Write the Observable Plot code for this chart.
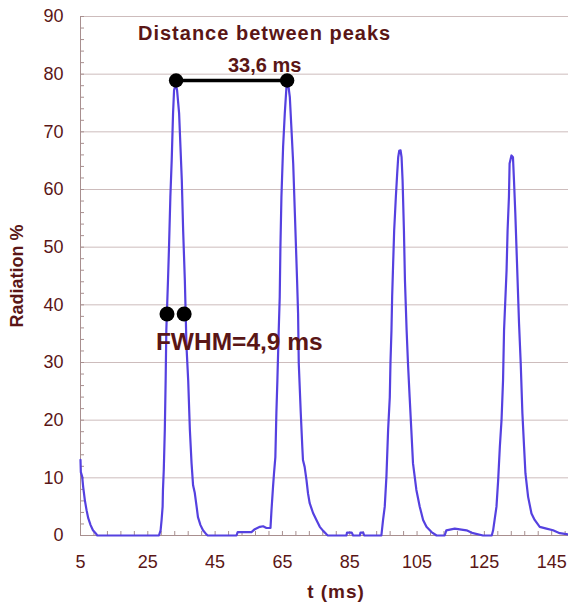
<!DOCTYPE html>
<html>
<head>
<meta charset="utf-8">
<script src="https://cdn.jsdelivr.net/npm/d3@7"></script>
<script src="https://cdn.jsdelivr.net/npm/@observablehq/plot@0.6"></script>
<style>
  html, body { margin: 0; padding: 0; background: #fff; }
  #wrap { position: relative; width: 568px; height: 604px; }
  #chart svg { display: block; }
  #xtitle { position: absolute; left: 236px; width: 200px; top: 580px; text-align: center;
            font: bold 19px 'Liberation Sans', Arial, Helvetica, sans-serif; color: #5a1616;
            letter-spacing: 1px; line-height: 24px; }
</style>
</head>
<body>
<div id="wrap">
  <div id="chart"></div>
  <div id="xtitle">t (ms)</div>
</div>
<script>
// Radiation (%) versus time t (ms)
const tMs = [
  5.0, 5.1, 5.5, 5.8, 6.3, 6.8, 7.3, 8.0, 8.7, 9.75, 10.0,
  28.3, 28.8, 29.1, 29.4, 29.5, 29.75, 30.05, 30.3, 30.5, 31.0, 31.3, 31.7, 32.1, 32.5, 32.8, 33.3,
  33.7, 34.3, 34.7, 35.1, 35.5, 36.0, 36.5, 37.0, 37.5, 38.0, 38.45, 38.95, 39.5, 39.9, 40.65, 41.4, 42.4, 42.8,
  51.35, 51.7, 55.8, 56.8, 58.3, 59.25, 60.25, 61.45,
  61.75, 62.2, 62.5, 62.9, 63.2, 63.5, 63.9, 64.2, 64.4, 64.7, 65.2, 65.7, 66.2, 66.7,
  67.2, 67.7, 68.2, 68.7, 69.35, 69.65, 69.85, 70.45, 70.9, 71.1, 71.6, 72.15, 72.6, 73.1, 74.1, 75.1, 76.1, 77.1, 78.1, 78.5,
  84.0, 84.2, 85.6, 86.0, 88.0, 88.2, 89.0, 89.3, 94.4,
  94.9, 95.4, 95.9, 96.4, 96.9, 97.1, 97.4, 97.6, 97.9, 98.2, 98.7, 99.1, 99.4, 99.7, 100.1,
  100.4, 100.7, 101.1, 101.4, 101.9, 102.3, 102.8, 103.3, 103.8, 104.8, 105.8, 106.8, 107.8, 109.3, 110.8,
  113.2, 113.7, 116.2, 119.7, 121.6, 124.6, 127.2,
  127.6, 128.6, 129.1, 129.6, 130.1, 130.55, 130.85, 131.6, 131.9, 132.3, 132.5, 133.05,
  133.5, 133.8, 134.2, 134.7, 135.3, 135.8, 136.3, 136.8, 137.2, 138.0, 139.0, 139.95, 141.45, 143.45, 145.4, 147.4, 150.0
];
const radiation = [
  13.1, 11.0, 10.2, 8.4, 6.1, 4.4, 3.0, 1.8, 0.9, 0.2, 0,
  0, 0.9, 2.7, 5.0, 7.9, 11.5, 18.3, 26.9, 35.6, 44.3, 50.0, 58.7, 65.1, 73.2, 77.2, 78.3,
  77.2, 73.2, 67.4, 61.6, 52.9, 44.3, 32.7, 26.9, 18.3, 12.5, 8.7, 7.4, 5.0, 3.2, 1.8, 0.9, 0.2, 0,
  0, 0.6, 0.6, 1.1, 1.5, 1.6, 1.3, 1.3,
  4.4, 8.4, 10.8, 13.6, 21.2, 26.9, 35.6, 41.4, 50.0, 58.7, 67.4, 73.2, 77.8, 78.3,
  76.0, 70.3, 64.5, 55.8, 44.3, 38.5, 29.9, 21.2, 15.4, 13.1, 11.9, 9.6, 7.3, 5.6, 3.9, 2.7, 1.5, 0.8, 0.2, 0,
  0, 0.5, 0.5, 0, 0, 0.5, 0.5, 0, 0,
  2.7, 5.0, 10.2, 18.3, 24.0, 29.9, 35.6, 41.4, 47.2, 52.9, 58.7, 62.8, 65.6, 66.7, 66.8,
  65.6, 61.6, 52.9, 44.3, 35.6, 29.9, 24.0, 18.3, 12.5, 7.9, 5.0, 2.7, 1.5, 0.6, 0,
  0, 0.9, 1.2, 0.9, 0.4, 0, 0,
  0.9, 5.0, 9.6, 15.4, 20.0, 26.9, 35.6, 46.0, 52.9, 58.7, 64.5, 65.9,
  65.6, 61.6, 55.8, 47.2, 36.8, 29.9, 21.2, 15.4, 10.8, 6.7, 3.8, 2.7, 1.5, 1.2, 0.9, 0.4, 0.2
];

// Axis ticks
const xTickLabels = [5, 25, 45, 65, 85, 105, 125, 145];
const xMinorTicks = d3.range(5, 151, 4);
const yTickLabels = [0, 10, 20, 30, 40, 50, 60, 70, 80, 90];
const yGridLines = [10, 20, 30, 40, 50, 60, 70, 80, 90];
const yMinorTicks = d3.range(0, 91, 2);

// Annotations
const peakDistanceX = [33.4, 66.4];
const peakDistanceY = 78.9;
const fwhmX = [30.7, 35.8];
const fwhmY = 38.4;
const centerNotes = [
  {text: "Distance between peaks", x: 59.7, y: 87.0},
  {text: "33,6 ms", x: 59.7, y: 81.4}
];
const fwhmNote = [{text: "FWHM=4,9 ms", x: 27.4, y: 33.6}];

const series = tMs.map((t, i) => ({t, r: radiation[i]}));
const maroon = "#5a1616";
const gridColor = "#cdbcbc";
const axisColor = "#a88f8f";

const chart = Plot.plot({
  width: 568,
  height: 604,
  marginLeft: 80,
  marginRight: 0,
  marginTop: 16,
  marginBottom: 69,
  style: {fontFamily: "'Liberation Sans', Arial, Helvetica, sans-serif"},
  x: {domain: [5, 150]},
  y: {domain: [0, 90]},
  marks: [
    Plot.gridY(yGridLines, {stroke: gridColor, strokeOpacity: 1}),
    Plot.axisY({ticks: yMinorTicks, tickSize: 4, dx: 4, tickFormat: () => "", stroke: axisColor, strokeOpacity: 1}),
    Plot.axisX({ticks: xMinorTicks, tickSize: 4, dy: -4, tickFormat: () => "", stroke: axisColor, strokeOpacity: 1}),
    Plot.ruleX([5], {stroke: axisColor}),
    Plot.ruleY([0], {stroke: axisColor}),
    Plot.axisY({ticks: yTickLabels, tickSize: 0, tickPadding: 17, fontSize: 18, fill: maroon, label: null}),
    Plot.axisX({ticks: xTickLabels, tickSize: 0, tickPadding: 20, fontSize: 18, fill: maroon, label: null}),
    Plot.text(["Radiation %"], {frameAnchor: "left", dx: -63, rotate: -90, fontSize: 18, fontWeight: "bold", fill: maroon, textAnchor: "middle", lineAnchor: "middle"}),
    Plot.line(series, {x: "t", y: "r", stroke: "#5541e0", strokeWidth: 2.2, strokeLinejoin: "round"}),
    Plot.line(peakDistanceX.map(x => ({x, y: peakDistanceY})), {x: "x", y: "y", stroke: "#000", strokeWidth: 3.5}),
    Plot.dot(peakDistanceX.map(x => ({x, y: peakDistanceY})), {x: "x", y: "y", r: 7.2, fill: "#000"}),
    Plot.dot(fwhmX.map(x => ({x, y: fwhmY})), {x: "x", y: "y", r: 7.5, fill: "#000"}),
    Plot.text(centerNotes, {x: "x", y: "y", text: "text", fontSize: 20, textAnchor: "middle", fontWeight: "bold", fill: maroon, lineAnchor: "middle"}),
    Plot.text(fwhmNote, {x: "x", y: "y", text: "text", fontSize: 24.5, textAnchor: "start", fontWeight: "bold", fill: maroon, lineAnchor: "middle"})
  ]
});
document.getElementById("chart").appendChild(chart);
d3.select(chart).selectAll("text").filter(function () { return this.textContent === "Distance between peaks"; }).attr("letter-spacing", "1px");
</script>
</body>
</html>
